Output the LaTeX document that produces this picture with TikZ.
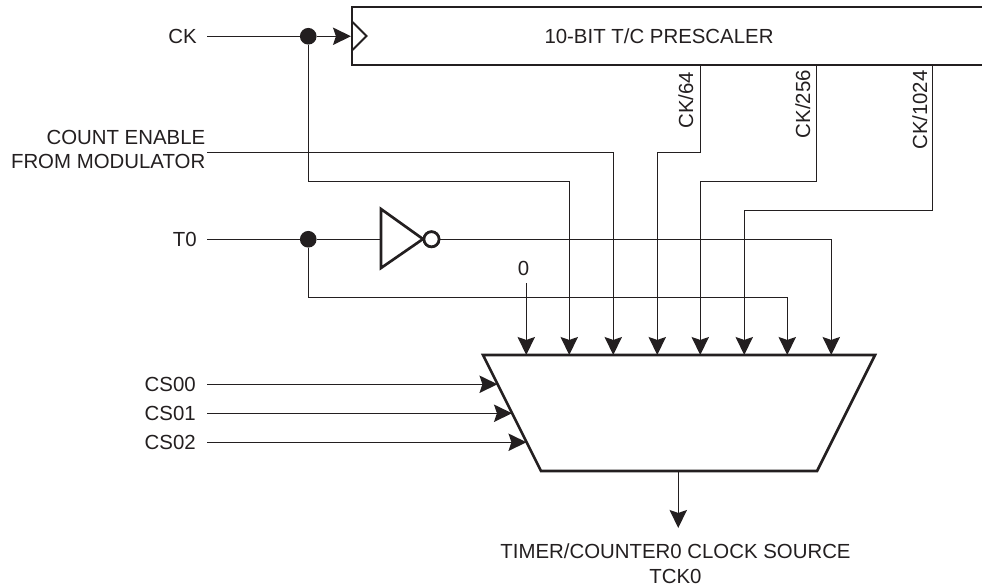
\documentclass[tikz,border=0pt]{standalone}
\usepackage{fontspec}
\setmainfont{Liberation Sans}
\usetikzlibrary{arrows.meta}
\definecolor{ink}{HTML}{231F20}
\tikzset{
  wire/.style={draw=ink,line width=1.05pt},
  arrowwire/.style={wire,-{Stealth[length=13.5pt,width=13pt,inset=2.2pt]}},
  heavy/.style={draw=ink,line width=2pt,line join=miter},
  junction/.style={circle,fill=ink,inner sep=0pt,minimum size=12.5pt},
  bubble/.style={circle,draw=ink,line width=2pt,fill=white,inner sep=0pt,minimum size=11.3pt},
  txt/.style={inner sep=0pt,text=ink,font=\fontsize{15.3pt}{18.5pt}\selectfont},
  rtxt/.style={txt,anchor=east,align=right},
  vtxt/.style={txt,rotate=90,anchor=base}
}
\begin{document}
\begin{tikzpicture}[x=0.75pt,y=-0.75pt]
\useasboundingbox (0,0) rectangle (982,587);
% ports and corners
\coordinate (boxTL) at (352,7);
\coordinate (boxTR) at (982,7);
\coordinate (boxBL) at (352,65);
\coordinate (boxBR) at (982,65);
\coordinate (clkA) at (352.5,22);
\coordinate (clkB) at (366.5,36);
\coordinate (clkC) at (352.5,50);
\coordinate (clkIn) at (351,36.25);
\coordinate (muxA) at (483,355);
\coordinate (muxB) at (875,355);
\coordinate (muxC) at (817,471);
\coordinate (muxD) at (541,471);
\foreach \n/\x in {i0/526.25,i1/569.25,i2/613.25,i3/657.25,i4/700.25,i5/744.25,i6/787.25,i7/831.25}
  \coordinate (\n) at (\x,355);
\coordinate (s0) at (497.5,384.25);
\coordinate (s1) at (512,413.25);
\coordinate (s2) at (526.5,442.25);
\coordinate (out) at (678.25,471);
\coordinate (outEnd) at (678.25,528);
\coordinate (p64) at (700.25,65);
\coordinate (p256) at (816.25,65);
\coordinate (p1024) at (932.25,65);
\coordinate (ckStart) at (207,36.25);
\coordinate (ceEnd) at (207,152.25);
\coordinate (t0Start) at (207,239.25);
\coordinate (cs0Start) at (207,384.25);
\coordinate (cs1Start) at (207,413.25);
\coordinate (cs2Start) at (207,442.25);
\coordinate (zeroStart) at (526.25,283);
% labels
\node[txt] (title) at (659,36) {10-BIT T/C PRESCALER};
\node[rtxt] (ck) at (197,36) {CK};
\node[rtxt] (ce) at (205.5,149.5) {COUNT ENABLE\\FROM MODULATOR};
\node[rtxt] (t0) at (197,239) {T0};
\node[txt] (zero) at (523.5,268) {0};
\node[rtxt] (cs0) at (196,384) {CS00};
\node[rtxt] (cs1) at (196,413) {CS01};
\node[rtxt] (cs2) at (196,442) {CS02};
\node[txt,align=center] (src) at (675.5,564) {TIMER/COUNTER0 CLOCK SOURCE\\TCK0};
\node[vtxt] (l64) at (693,100) {CK/64};
\node[vtxt] (l256) at (810,104) {CK/256};
\node[vtxt] (l1024) at (927,110) {CK/1024};
% junctions and inverter
\node[junction] (j1) at (308.25,36.25) {};
\node[junction] (j2) at (308.25,239.25) {};
\coordinate (invA) at (381,209);
\coordinate (invB) at (381,268);
\coordinate (invC) at (423,239);
\coordinate (invIn) at (381,239.25);
\node[bubble] (inv) at (431.5,239.25) {};
% wires
\draw[wire] (ckStart) -- (j1);
\draw[arrowwire] (j1) -- (clkIn);
\draw[arrowwire] (j1) |- (569.25,181.25) -- (i1);
\draw[arrowwire] (ceEnd) -- (613.25,152.25) -- (i2);
\draw[arrowwire] (p64) |- (657.25,152.25) -- (i3);
\draw[arrowwire] (p256) |- (700.25,181.25) -- (i4);
\draw[arrowwire] (p1024) |- (744.25,210.25) -- (i5);
\draw[wire] (t0Start) -- (j2);
\draw[wire] (j2) -- (invIn);
\draw[arrowwire] (inv) -| (i7);
\draw[arrowwire] (j2) |- (787.25,297.25) -- (i6);
\draw[arrowwire] (zeroStart) -- (i0);
\draw[arrowwire] (cs0Start) -- (s0);
\draw[arrowwire] (cs1Start) -- (s1);
\draw[arrowwire] (cs2Start) -- (s2);
\draw[arrowwire] (out) -- (outEnd);
% heavy shapes
\draw[heavy] (boxTR) -- (boxTL) -- (boxBL) -- (boxBR);
\draw[wire,line width=1.5pt] (clkA) -- (clkB) -- (clkC);
\draw[heavy] (muxA) -- (muxB) -- (muxC) -- (muxD) -- cycle;
\draw[heavy] (invA) -- (invC) -- (invB) -- cycle;
\node[bubble] at (inv) {};
\end{tikzpicture}
\end{document}
